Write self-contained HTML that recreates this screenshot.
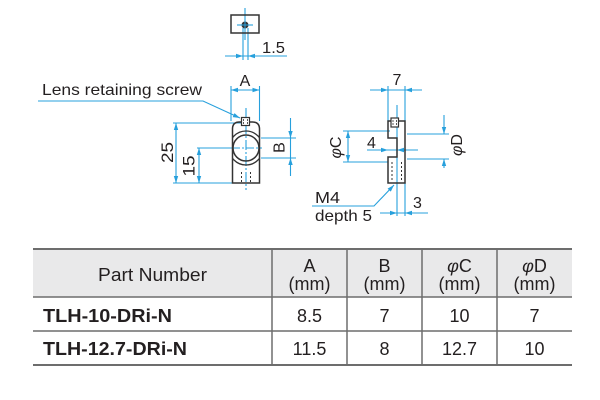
<!DOCTYPE html>
<html>
<head>
<meta charset="utf-8">
<style>
html,body{margin:0;padding:0;background:#fff;}
svg{display:block;}
text{font-family:"Liberation Sans",Arial,sans-serif;fill:#231f20;}
</style>
</head>
<body>
<svg width="600" height="400" viewBox="0 0 600 400" xmlns="http://www.w3.org/2000/svg">
<defs>
  <clipPath id="bodyclip"><rect x="232.5" y="122" width="27" height="61"/></clipPath>
</defs>
<rect width="600" height="400" fill="#fff"/>

<!-- ===== Top small view ===== -->
<g stroke="#27a0dc" stroke-width="1.1" fill="none">
  <line x1="245" y1="8" x2="245" y2="40"/>
  <line x1="237" y1="25" x2="253" y2="25"/>
  <line x1="243" y1="28" x2="243" y2="60"/>
  <line x1="248" y1="28" x2="248" y2="60"/>
  <line x1="225" y1="56" x2="287" y2="56"/>
</g>
<rect x="231" y="15" width="28" height="18" fill="none" stroke="#333" stroke-width="1.5"/>
<circle cx="245" cy="25" r="3.5" fill="#333"/>
<line x1="240" y1="25" x2="250" y2="25" stroke="#27a0dc" stroke-width="1"/>
<line x1="245" y1="20" x2="245" y2="30" stroke="#27a0dc" stroke-width="1"/>
<g fill="#27a0dc">
  <polygon points="243,56 236,53.8 236,58.2"/>
  <polygon points="248,56 255,53.8 255,58.2"/>
</g>
<text x="262" y="53" font-size="16" textLength="23" lengthAdjust="spacingAndGlyphs">1.5</text>

<!-- ===== Front view (left) ===== -->
<g stroke="#27a0dc" stroke-width="1.1" fill="none">
  <line x1="231" y1="86" x2="231" y2="121"/>
  <line x1="259.5" y1="86" x2="259.5" y2="121"/>
  <line x1="231" y1="90" x2="259.5" y2="90"/>
  <line x1="246" y1="108" x2="246" y2="190" stroke-dasharray="10,2,2,2"/>
  <line x1="197" y1="148" x2="232" y2="148"/>
  <line x1="232" y1="148" x2="262" y2="148" stroke-dasharray="8,2,2,2"/>
  <line x1="173" y1="123" x2="241" y2="123"/>
  <line x1="173" y1="183" x2="232" y2="183"/>
  <line x1="176" y1="123" x2="176" y2="183"/>
  <line x1="199" y1="148" x2="199" y2="183"/>
  <line x1="261" y1="138" x2="296" y2="138"/>
  <line x1="261" y1="158" x2="296" y2="158"/>
  <line x1="290.5" y1="118" x2="290.5" y2="176"/>
  <polyline points="38,101 203,101 240,118"/>
</g>
<g fill="#27a0dc">
  <polygon points="231,90 238,87.8 238,92.2"/>
  <polygon points="259.5,90 252.5,87.8 252.5,92.2"/>
  <polygon points="176,123 173.8,130 178.2,130"/>
  <polygon points="176,183 173.8,176 178.2,176"/>
  <polygon points="199,148 196.8,155 201.2,155"/>
  <polygon points="199,183 196.8,176 201.2,176"/>
  <polygon points="290.5,138 288.3,131 292.7,131"/>
  <polygon points="290.5,158 288.3,165 292.7,165"/>
  <polygon points="240,118 234.5,113.1 232.7,117.1"/>
</g>
<path d="M232.5,183 V129 Q232.5,122 239.5,122 H252.5 Q259.5,122 259.5,129 V183 Z" fill="none" stroke="#333" stroke-width="1.5"/>
<circle cx="246" cy="148" r="13" fill="none" stroke="#333" stroke-width="1.5"/>
<g clip-path="url(#bodyclip)">
  <circle cx="246" cy="148" r="17" fill="none" stroke="#333" stroke-width="1.3"/>
</g>
<rect x="241.5" y="117.5" width="8" height="8" fill="#fff" stroke="#333" stroke-width="1.2"/>
<line x1="243.5" y1="119" x2="243.5" y2="125" stroke="#333" stroke-width="0.8" stroke-dasharray="2,1"/>
<line x1="247.5" y1="119" x2="247.5" y2="125" stroke="#333" stroke-width="0.8" stroke-dasharray="2,1"/>
<line x1="241.5" y1="172" x2="241.5" y2="182" stroke="#333" stroke-width="1" stroke-dasharray="2,2"/>
<line x1="250.5" y1="172" x2="250.5" y2="182" stroke="#333" stroke-width="1" stroke-dasharray="2,2"/>
<line x1="246" y1="172" x2="246" y2="182" stroke="#27a0dc" stroke-width="1" stroke-dasharray="2,2"/>

<text x="245" y="86" font-size="16" text-anchor="middle">A</text>
<text x="42" y="95" font-size="16" textLength="160" lengthAdjust="spacingAndGlyphs">Lens retaining screw</text>
<text transform="translate(173,152.5) rotate(-90)" font-size="17" text-anchor="middle" textLength="21" lengthAdjust="spacingAndGlyphs">25</text>
<text transform="translate(194.5,166) rotate(-90)" font-size="17" text-anchor="middle" textLength="21" lengthAdjust="spacingAndGlyphs">15</text>
<text transform="translate(284.5,147.5) rotate(-90)" font-size="16" text-anchor="middle">B</text>

<!-- ===== Side view (right) ===== -->
<g stroke="#27a0dc" stroke-width="1.1" fill="none">
  <line x1="388" y1="86" x2="388" y2="121"/>
  <line x1="405" y1="86" x2="405" y2="121"/>
  <line x1="370" y1="90" x2="422" y2="90"/>
  <line x1="397" y1="105" x2="397" y2="216"/>
  <line x1="367" y1="150" x2="418" y2="150"/>
  <line x1="343" y1="131" x2="390" y2="131"/>
  <line x1="343" y1="162" x2="388" y2="162"/>
  <line x1="348" y1="131" x2="348" y2="162"/>
  <line x1="407" y1="134" x2="449" y2="134"/>
  <line x1="407" y1="159" x2="449" y2="159"/>
  <line x1="444" y1="115" x2="444" y2="134"/>
  <line x1="444" y1="159" x2="444" y2="168"/>
  <line x1="405" y1="183" x2="405" y2="216"/>
  <line x1="380" y1="213" x2="428" y2="213"/>
  <polyline points="312,206 374,206 394,185"/>
</g>
<g fill="#27a0dc">
  <polygon points="388,90 381,87.8 381,92.2"/>
  <polygon points="405,90 412,87.8 412,92.2"/>
  <polygon points="388,150 381,147.8 381,152.2"/>
  <polygon points="397,150 404,147.8 404,152.2"/>
  <polygon points="348,131 345.8,138 350.2,138"/>
  <polygon points="348,162 345.8,155 350.2,155"/>
  <polygon points="444,134 441.8,127 446.2,127"/>
  <polygon points="444,159 441.8,166 446.2,166"/>
  <polygon points="397,213 390,210.8 390,215.2"/>
  <polygon points="405,213 412,210.8 412,215.2"/>
  <polygon points="394,185 390.8,191.6 387.6,188.6"/>
</g>
<path d="M388,121 H405 V183 H388 V157 H397 V138 H388 Z" fill="none" stroke="#333" stroke-width="1.5"/>
<rect x="391" y="118" width="7.5" height="9" fill="#fff" stroke="#333" stroke-width="1.2"/>
<line x1="393" y1="120" x2="393" y2="126" stroke="#333" stroke-width="0.8" stroke-dasharray="2,1"/>
<line x1="396.5" y1="120" x2="396.5" y2="126" stroke="#333" stroke-width="0.8" stroke-dasharray="2,1"/>
<line x1="392" y1="162" x2="392" y2="182" stroke="#333" stroke-width="1" stroke-dasharray="2,2"/>
<line x1="401.5" y1="162" x2="401.5" y2="182" stroke="#333" stroke-width="1" stroke-dasharray="2,2"/>

<text x="397" y="85" font-size="16" text-anchor="middle">7</text>
<text x="367" y="148" font-size="16">4</text>
<text transform="translate(341,147.5) rotate(-90)" font-size="16" text-anchor="middle"><tspan font-style="italic">φ</tspan>C</text>
<text transform="translate(462,145) rotate(-90)" font-size="16" text-anchor="middle"><tspan font-style="italic">φ</tspan>D</text>
<text x="315" y="203" font-size="16" textLength="25" lengthAdjust="spacingAndGlyphs">M4</text>
<text x="315" y="221" font-size="16" textLength="57" lengthAdjust="spacingAndGlyphs">depth 5</text>
<text x="413" y="208" font-size="16">3</text>

<!-- ===== Table ===== -->
<rect x="33" y="249" width="539" height="48" fill="#e9e9ea"/>
<g stroke="#6d6d6d" fill="none">
  <line x1="33" y1="249" x2="572" y2="249" stroke-width="2"/>
  <line x1="33" y1="297" x2="572" y2="297" stroke-width="1.5"/>
  <line x1="33" y1="331" x2="572" y2="331" stroke-width="1.5"/>
  <line x1="33" y1="365" x2="572" y2="365" stroke-width="2"/>
  <line x1="272" y1="249" x2="272" y2="365" stroke-width="1.5"/>
  <line x1="347" y1="249" x2="347" y2="365" stroke-width="1.5"/>
  <line x1="422" y1="249" x2="422" y2="365" stroke-width="1.5"/>
  <line x1="497" y1="249" x2="497" y2="365" stroke-width="1.5"/>
</g>
<g font-size="18" text-anchor="middle">
  <text x="152.5" y="281" textLength="109" lengthAdjust="spacingAndGlyphs">Part Number</text>
  <text x="309.5" y="272">A</text>
  <text x="309.5" y="290">(mm)</text>
  <text x="384.5" y="272">B</text>
  <text x="384.5" y="290">(mm)</text>
  <text x="459.5" y="272"><tspan font-style="italic">φ</tspan>C</text>
  <text x="459.5" y="290">(mm)</text>
  <text x="534.5" y="272"><tspan font-style="italic">φ</tspan>D</text>
  <text x="534.5" y="290">(mm)</text>

  <text x="309.5" y="322">8.5</text>
  <text x="384.5" y="322">7</text>
  <text x="459.5" y="322">10</text>
  <text x="534.5" y="322">7</text>

  <text x="309.5" y="355">11.5</text>
  <text x="384.5" y="355">8</text>
  <text x="459.5" y="355">12.7</text>
  <text x="534.5" y="355">10</text>
</g>
<text x="43" y="322" font-size="18" font-weight="bold" textLength="129" lengthAdjust="spacingAndGlyphs">TLH-10-DRi-N</text>
<text x="43" y="355" font-size="18" font-weight="bold" textLength="144" lengthAdjust="spacingAndGlyphs">TLH-12.7-DRi-N</text>
</svg>
</body>
</html>
